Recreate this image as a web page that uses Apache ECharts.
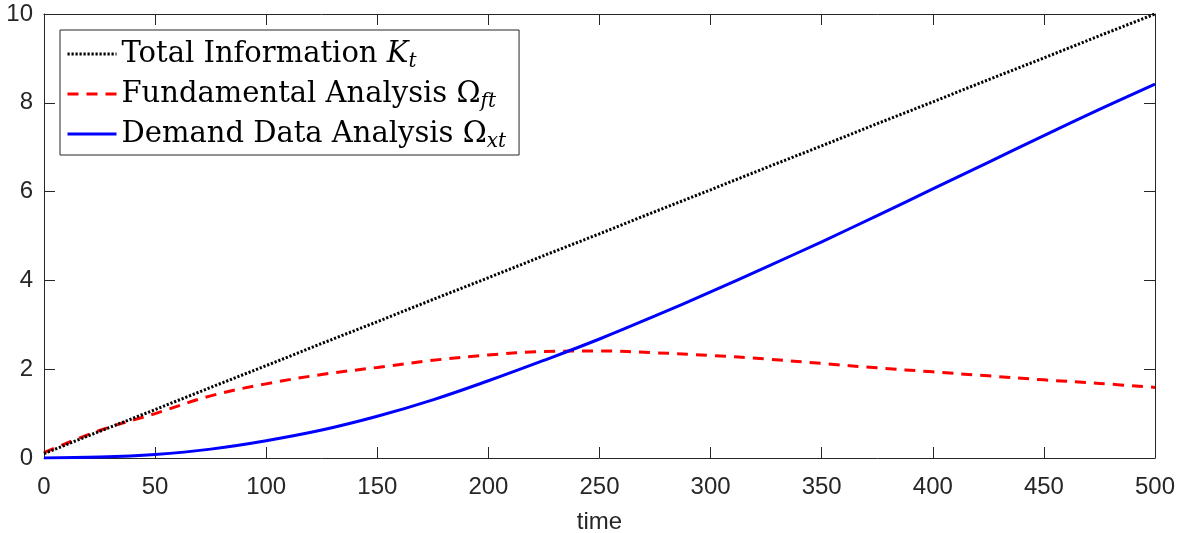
<!DOCTYPE html>
<html>
<head>
<meta charset="utf-8">
<script src="https://cdn.jsdelivr.net/npm/echarts@6/dist/echarts.min.js"></script>
<style>
html,body{margin:0;padding:0;background:#fff;}
#chart{width:1179px;height:533px;}
</style>
</head>
<body>
<div id="chart"></div>
<script>
// time values
const timeValues = [0,25,50,75,100,125,150,175,200,225,250,275,300,325,350,375,400,425,450,475,500];
// Total Information K_t
const totalInfo = [0.10,0.60,1.09,1.59,2.08,2.58,3.07,3.57,4.06,4.56,5.05,5.55,6.04,6.54,7.03,7.53,8.02,8.52,9.01,9.51,10.00];
// Fundamental Analysis Omega_ft
const fundamental = [0.12,0.62,1.00,1.40,1.67,1.88,2.04,2.20,2.32,2.40,2.41,2.37,2.31,2.23,2.13,2.03,1.94,1.85,1.76,1.68,1.59];
// Demand Data Analysis Omega_xt
const demand = [0.00,0.02,0.08,0.20,0.39,0.63,0.94,1.31,1.74,2.20,2.68,3.20,3.74,4.30,4.87,5.46,6.06,6.66,7.26,7.85,8.42];
// axis ticks
const xTicks = {min:0, max:500, interval:50};
const yTicks = {min:0, max:10, interval:2};
const seriesNames = ['Total Information', 'Fundamental Analysis', 'Demand Data Analysis'];

function pairs(vals){ return timeValues.map((t,i)=>[t, vals[i]]); }

const axisColor = '#262626';
const chart = echarts.init(document.getElementById('chart'));
const baseAxis = {
  splitLine:{show:false},
  axisLine:{show:true, onZero:false, lineStyle:{color:axisColor, width:1}},
  axisTick:{show:true, inside:true, length:11, lineStyle:{color:axisColor, width:1}},
};
const serif = 'DejaVu Serif';
const legendRich = {
  n:{fontFamily:serif, fontSize:29, color:'#000', lineHeight:36},
  i:{fontFamily:serif, fontSize:29, fontStyle:'italic', color:'#000', lineHeight:36},
  s:{fontFamily:serif, fontSize:20, fontStyle:'italic', color:'#000', lineHeight:10, verticalAlign:'bottom'}
};
chart.setOption({
  animation:false,
  backgroundColor:'#fff',
  grid:{left:44, right:24, top:14, bottom:75, containLabel:false, outerBoundsMode:'none'},
  xAxis:[
    Object.assign({}, baseAxis, {type:'value', position:'bottom', min:xTicks.min, max:xTicks.max, interval:xTicks.interval,
      name:'time', nameLocation:'middle', nameGap:52,
      nameTextStyle:{fontFamily:'Liberation Sans', fontSize:24, color:axisColor},
      axisLabel:{fontFamily:'Liberation Sans', fontSize:24, color:axisColor, margin:17}}),
    Object.assign({}, baseAxis, {type:'value', position:'top', min:xTicks.min, max:xTicks.max, interval:xTicks.interval,
      axisLabel:{show:false}})
  ],
  yAxis:[
    Object.assign({}, baseAxis, {type:'value', position:'left', min:yTicks.min, max:yTicks.max, interval:yTicks.interval,
      axisLabel:{fontFamily:'Liberation Sans', fontSize:24, color:axisColor, margin:11}}),
    Object.assign({}, baseAxis, {type:'value', position:'right', min:yTicks.min, max:yTicks.max, interval:yTicks.interval,
      axisLabel:{show:false}})
  ],
  legend:{
    left:60, top:30, orient:'vertical',
    itemWidth:49, itemHeight:20, itemGap:4,
    padding:[6,13,3,6],
    borderColor:'#262626', borderWidth:1, backgroundColor:'#fff',
    itemStyle:{color:'rgba(0,0,0,0)', borderColor:'rgba(0,0,0,0)', borderWidth:0, opacity:0},
    lineStyle:{width:3},
    data:seriesNames,
    formatter:function(name){
      if(name===seriesNames[0]) return '{n|Total Information }{i|K}{s|t}';
      if(name===seriesNames[1]) return '{n|Fundamental Analysis Ω}{s|ft}';
      return '{n|Demand Data Analysis Ω}{s|xt}';
    },
    textStyle:{rich:legendRich, lineHeight:36}
  },
  series:[
    {name:seriesNames[0], type:'line', data:pairs(totalInfo), symbol:'none', z:3,
      lineStyle:{color:'#000', width:3, type:[2.2,1.8]}, itemStyle:{color:'#000'}},
    {name:seriesNames[1], type:'line', data:pairs(fundamental), symbol:'none', smooth:0.4, z:2,
      lineStyle:{color:'#ff0000', width:3, type:[11,8]}, itemStyle:{color:'#ff0000'}},
    {name:seriesNames[2], type:'line', data:pairs(demand), symbol:'none', smooth:0.4, z:4,
      lineStyle:{color:'#0000ff', width:3, type:'solid'}, itemStyle:{color:'#0000ff'}}
  ]
});
</script>
</body>
</html>
